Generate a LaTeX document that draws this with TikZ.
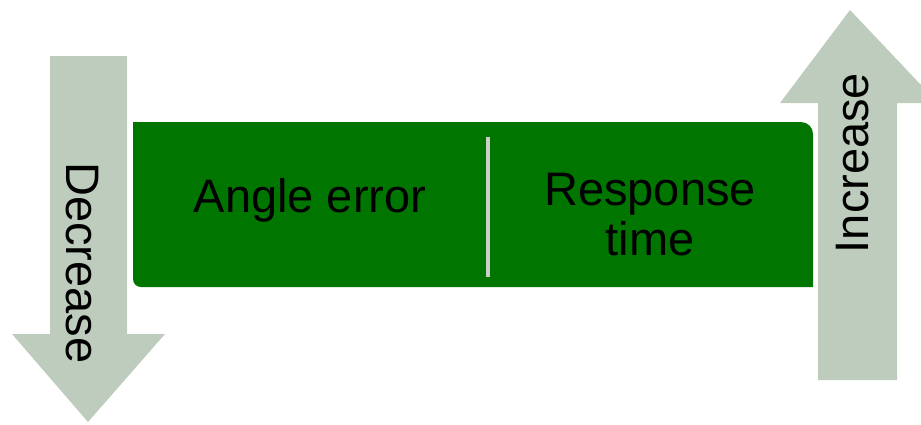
\documentclass[tikz,border=0pt]{standalone}
\usepackage{fontspec}
\setmainfont{Liberation Sans}
\definecolor{arrowgray}{RGB}{190,204,190}
\definecolor{boxgreen}{RGB}{0,117,0}
\definecolor{rulegray}{RGB}{200,208,200}
\tikzset{
  label text/.style={font=\fontsize{47}{50}\selectfont, text=black, inner sep=0pt, align=center},
  block arrow/.style={fill=arrowgray, draw=none}
}

\begin{document}
\begin{tikzpicture}[x=1pt, y=-1pt]
\useasboundingbox (0,0) rectangle (921,424);
% arrows
\fill[block arrow] (50,56) -- (127,56) -- (127,334) -- (165,334) -- (88,422) -- (12,334) -- (50,334) -- cycle;
\fill[block arrow] (818,380) -- (897,380) -- (897,103) -- (921,103) -- (921,85) -- (850,10) -- (780,103) -- (818,103) -- cycle;
% green box
\fill[boxgreen] (400,122) [rounded corners=12pt] -- (813,122) [sharp corners] -- (813,287) [rounded corners=8pt] -- (133,287) [sharp corners] -- (133,122) -- cycle;
\coordinate (Rtop) at (488,137);
\coordinate (Rbot) at (488,277);
\draw[rulegray, line width=4pt] (Rtop) -- (Rbot);
% labels
\node[label text] (Angle) at (310,200) {Angle error};
\node[label text] (Resp) at (650,215) {Response\\time};
\node[label text, rotate=-90] (Dec) at (82,263) {Decrease};
\node[label text, rotate=90] (Inc) at (853,163) {Increase};
\end{tikzpicture}
\end{document}
